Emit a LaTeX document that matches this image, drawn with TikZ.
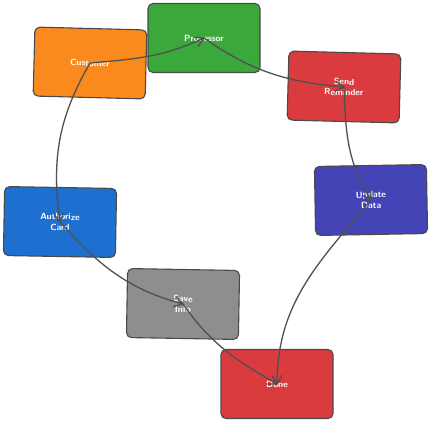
\documentclass[tikz,border=0pt]{standalone}
\definecolor{flowOrange}{HTML}{FA8A1E}
\definecolor{flowGreen}{HTML}{3BA83B}
\definecolor{flowRed}{HTML}{D93B3F}
\definecolor{flowIndigo}{HTML}{4444B6}
\definecolor{flowBlue}{HTML}{1D6FD0}
\definecolor{flowGray}{HTML}{8E8E8E}
\definecolor{edgeDark}{HTML}{4A4A4A}
\definecolor{lineDark}{HTML}{505050}

\tikzset{
  card/.style={draw=edgeDark, line width=1.1pt, rounded corners=5pt,
    minimum width=112pt, minimum height=69pt, inner sep=2pt,
    text=white, font=\fontsize{9}{10.5}\selectfont\sffamily\bfseries, align=center},
  flow/.style={draw=lineDark, line width=1.3pt, line cap=round, line join=round}
}

\begin{document}
\begin{tikzpicture}[x=1pt, y=1pt]
  \useasboundingbox (0,0) rectangle (432,-424);
  % boxes
  \foreach \n/\x/\y/\r/\c/\t in {
      cust/90/-63/-1.5/flowOrange/{Customer},
      proc/204/-38/0/flowGreen/{Processor},
      send/344/-87/-1.5/flowRed/{Send\\Reminder},
      upd/371/-200/1/flowIndigo/{Update\\Data},
      auth/60/-222/-1/flowBlue/{Authorize\\Card},
      save/183/-304/-1/flowGray/{Save\\Info},
      done/277/-384/0/flowRed/{Done}}{
    \node[card, fill=\c, rotate=\r] (\n) at (\x,\y) {\t};
  }
  % connectors, barbs drawn by hand at the target end
  \foreach \a/\b/\o/\i in {cust/proc/5/205, proc/send/-35/175,
      send/upd/-88/122, cust/auth/-120/98, auth/save/-48/165,
      save/done/-55/150, upd/done/-130/90}{
    \draw[flow] (\a.center) to[out=\o, in=\i] (\b.center)
      ++(\i+30:10) -- (\b.center) -- ++(\i-30:10);
  }
\end{tikzpicture}
\end{document}
